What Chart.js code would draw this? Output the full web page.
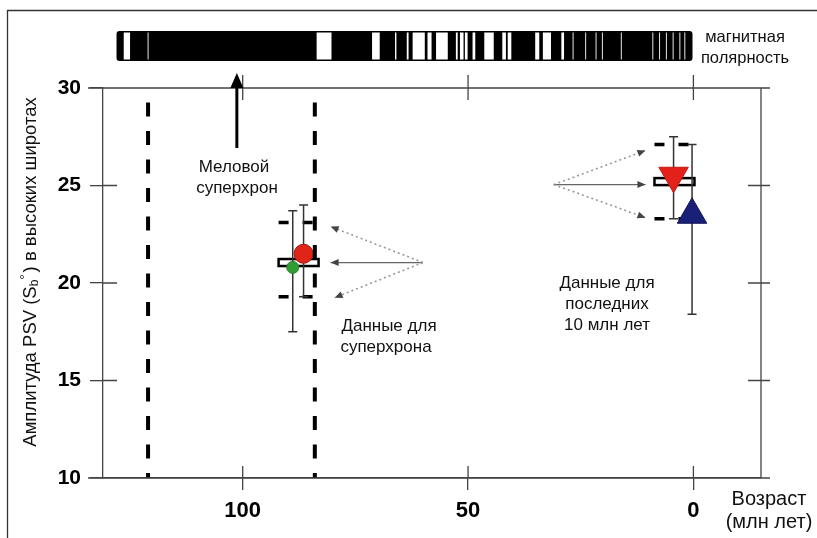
<!DOCTYPE html>
<html>
<head>
<meta charset="utf-8">
<script src="https://cdn.jsdelivr.net/npm/chart.js@4.4.1/dist/chart.umd.min.js"></script>
<style>
  html, body { margin: 0; padding: 0; background: #fff; }
  #wrap { width: 817px; height: 538px; }
</style>
</head>
<body>
<div id="wrap"><canvas id="psvChart" width="817" height="538"></canvas></div>
<script>
// values
const xTicks = [100, 50, 0];
const yTicks = [10, 15, 20, 25, 30];

// Cretaceous superchron boundaries (Ma)
const superchron = [121, 84];

// green & red circles (superchron), red & blue triangles (last 10 Ma)
const pointAges = [88.9, 86.5, 4.4, 0.3];
const pointAmps = [20.8, 21.5, 25.5, 23.5];
const errLow = [17.5, 19.3, 23.3, 18.4];
const errHigh = [23.7, 24.0, 27.5, 27.1];

// dashed model ranges
const boxAges = [87.6, 4.2];
const boxLow = [19.3, 23.3];
const boxMid = [21.05, 25.2];
const boxHigh = [23.1, 27.1];

// magnetic polarity bar: span and reversed (white) intervals, Ma
const polaritySpan = [128, 0.2];
const reversed = [
  [125.0, 126.4], [120.9, 121.1], [80.3, 83.6], [69.6, 71.3], [65.9, 66.2],
  [63.2, 63.6], [59.6, 62.3], [58.1, 59.0], [54.5, 57.1], [52.3, 52.7],
  [51.0, 51.8], [50.1, 50.7], [48.4, 49.0], [44.3, 46.4], [41.6, 42.4],
  [40.4, 41.2], [34.2, 35.1], [31.6, 33.4], [28.7, 29.3], [26.6, 26.8],
  [23.8, 24.0], [21.5, 21.7], [20.1, 20.3], [15.9, 16.1], [8.9, 9.1],
  [7.4, 7.6], [5.9, 6.1], [4.4, 4.6], [2.9, 3.1], [1.8, 2.0]
];

const FONT = '"Liberation Sans", Arial, sans-serif';
const AXIS = '#444';

function arrowHead(c, x1, y1, x2, y2, len, half) {
  const a = Math.atan2(y2 - y1, x2 - x1);
  c.beginPath();
  c.moveTo(x2, y2);
  c.lineTo(x2 - len * Math.cos(a) + half * Math.sin(a), y2 - len * Math.sin(a) - half * Math.cos(a));
  c.lineTo(x2 - len * Math.cos(a) - half * Math.sin(a), y2 - len * Math.sin(a) + half * Math.cos(a));
  c.closePath();
  c.fill();
}

function arrow(c, x1, y1, x2, y2, dotted) {
  c.save();
  c.strokeStyle = dotted ? '#999' : '#666';
  c.fillStyle = '#444';
  c.lineWidth = dotted ? 1.6 : 1.3;
  c.setLineDash(dotted ? [2, 3] : []);
  c.beginPath();
  c.moveTo(x1, y1);
  c.lineTo(x2, y2);
  c.stroke();
  c.setLineDash([]);
  arrowHead(c, x1, y1, x2, y2, 8, 3.5);
  c.restore();
}

const under = {
  id: 'under',
  beforeDatasetsDraw(chart) {
    const c = chart.ctx, xs = chart.scales.x, ys = chart.scales.y;
    c.save();
    // dashed model boxes
    c.strokeStyle = '#000';
    boxAges.forEach((age, i) => {
      const cx = xs.getPixelForValue(age), hw = 20;
      c.lineWidth = 3.5;
      c.setLineDash([10, 14]);
      [boxHigh[i], boxLow[i]].forEach(v => {
        const y = ys.getPixelForValue(v);
        c.beginPath(); c.moveTo(cx - hw, y); c.lineTo(cx + hw, y); c.stroke();
      });
      c.setLineDash([]);
      c.lineWidth = 2.5;
      const ym = ys.getPixelForValue(boxMid[i]);
      c.strokeRect(cx - hw, ym - 3.5, hw * 2, 7);
    });
    // error bars
    c.strokeStyle = '#333';
    c.lineWidth = 1.5;
    pointAges.forEach((age, i) => {
      const x = xs.getPixelForValue(age);
      const y1 = ys.getPixelForValue(errHigh[i]), y2 = ys.getPixelForValue(errLow[i]);
      c.beginPath();
      c.moveTo(x, y1); c.lineTo(x, y2);
      c.moveTo(x - 4.5, y1); c.lineTo(x + 4.5, y1);
      c.moveTo(x - 4.5, y2); c.lineTo(x + 4.5, y2);
      c.stroke();
    });
    c.restore();
  }
};

const decor = {
  id: 'decor',
  afterDraw(chart) {
    const c = chart.ctx, xs = chart.scales.x, ys = chart.scales.y;
    const a = chart.chartArea;
    c.save();

    // outer frame (top and left only)
    c.strokeStyle = '#333';
    c.lineWidth = 1.3;
    c.beginPath();
    c.moveTo(817, 10.5); c.lineTo(7.5, 10.5); c.lineTo(7.5, 538);
    c.stroke();

    // box around the plot, with ticks crossing each side
    c.strokeStyle = AXIS;
    c.lineWidth = 1.3;
    c.beginPath();
    c.moveTo(a.left - 15, a.top); c.lineTo(a.right + 9, a.top);
    c.moveTo(a.left - 15, a.bottom); c.lineTo(a.right + 9, a.bottom);
    c.moveTo(a.right, a.top); c.lineTo(a.right, a.bottom);
    xTicks.forEach(v => {
      const x = xs.getPixelForValue(v);
      c.moveTo(x, a.bottom); c.lineTo(x, a.bottom - 12);
      c.moveTo(x, a.top - 13); c.lineTo(x, a.top + 12);
    });
    yTicks.forEach(v => {
      const y = ys.getPixelForValue(v);
      c.moveTo(a.left, y); c.lineTo(a.left + 14, y);
      c.moveTo(a.right - 13, y); c.lineTo(a.right + 9, y);
    });
    c.stroke();

    // polarity bar
    const bx1 = xs.getPixelForValue(polaritySpan[0]), bx2 = xs.getPixelForValue(polaritySpan[1]);
    c.fillStyle = '#000';
    c.beginPath();
    c.roundRect(bx1, 31, bx2 - bx1, 30, 3);
    c.fill();
    c.fillStyle = '#fff';
    reversed.forEach(([o, y]) => {
      const p1 = xs.getPixelForValue(o), p2 = xs.getPixelForValue(y);
      c.fillRect(p1, 32.5, p2 - p1, 27);
    });

    // Cretaceous superchron arrow
    const ax = xs.getPixelForValue(101.3);
    c.strokeStyle = '#000';
    c.fillStyle = '#000';
    c.lineWidth = 3;
    c.beginPath(); c.moveTo(ax, 148); c.lineTo(ax, 84); c.stroke();
    arrowHead(c, ax, 148, ax, 73, 15, 6.5);

    // pointer arrows to the model ranges
    const gx = xs.getPixelForValue(60), gy = ys.getPixelForValue(boxMid[0]);
    const lx = xs.getPixelForValue(boxAges[0]) + 32;
    arrow(c, gx, gy, lx, ys.getPixelForValue(boxHigh[0]) + 4, true);
    arrow(c, gx, gy, lx, gy, false);
    arrow(c, gx, gy, lx + 4, ys.getPixelForValue(boxLow[0]) + 1, true);

    const rx = xs.getPixelForValue(31), ry = ys.getPixelForValue(boxMid[1]) + 3;
    const tx = xs.getPixelForValue(boxAges[1]) - 29;
    arrow(c, rx, ry, tx, ys.getPixelForValue(boxHigh[1]) + 6, true);
    arrow(c, rx, ry, tx, ry, false);
    arrow(c, rx, ry, tx, ys.getPixelForValue(boxLow[1]) - 1, true);

    // texts
    c.fillStyle = '#111';
    c.textAlign = 'center';
    c.textBaseline = 'middle';
    const lines = [
      ['Меловой', 234, 167, 17], ['суперхрон', 237, 188, 17],
      ['Данные для', 389, 326, 17], ['суперхрона', 386, 347, 17],
      ['Данные для', 607, 283, 17], ['последних', 607, 304, 17], ['10 млн лет', 607, 325, 17],
      ['магнитная', 745, 37, 16.5], ['полярность', 745, 58, 16.5],
      ['Возраст', 769, 499, 20], ['(млн лет)', 769, 522, 20]
    ];
    lines.forEach(([t, x, y, s]) => {
      c.font = s + 'px ' + FONT;
      c.fillText(t, x, y);
    });

    // y axis title with subscript and degree sign
    const parts = [
      ['Амплитуда PSV (S', 18.5, 0], ['b', 12, 4], ['°', 13, -6], [') в высоких широтах', 18.5, 0]
    ];
    let total = 0;
    parts.forEach(p => { c.font = p[1] + 'px ' + FONT; total += c.measureText(p[0]).width + (p[0] === '°' ? 2 : 0); });
    c.translate(31, 272);
    c.rotate(-Math.PI / 2);
    c.textAlign = 'left';
    c.textBaseline = 'middle';
    let px = -total / 2;
    parts.forEach(p => {
      c.font = p[1] + 'px ' + FONT;
      c.fillText(p[0], px, p[2]);
      px += c.measureText(p[0]).width + (p[0] === '°' ? 2 : 0);
    });
    c.restore();
  }
};

new Chart(document.getElementById('psvChart'), {
  type: 'scatter',
  data: {
    datasets: [
      ...superchron.map(age => ({
        type: 'line',
        data: [{ x: age, y: 30 }, { x: age, y: 10 }],
        borderColor: '#000',
        borderWidth: 4,
        borderDash: [14, 14.5],
        borderDashOffset: 14,
        pointRadius: 0,
        showLine: true,
        fill: false
      })),
      {
        data: pointAges.map((age, i) => ({ x: age, y: pointAmps[i] })),
        pointStyle: ['circle', 'circle', 'triangle', 'triangle'],
        rotation: [0, 0, 180, 0],
        radius: [6, 9.5, 17, 17],
        backgroundColor: ['#2f9e32', '#e02518', '#e3201a', '#1a1f78'],
        borderColor: ['#2f7e32', '#a01810', '#c01a14', '#10145a'],
        borderWidth: 1
      }
    ]
  },
  options: {
    responsive: false,
    animation: false,
    layout: { padding: { left: 0, top: 88, right: 56, bottom: 0 } },
    plugins: { legend: { display: false }, tooltip: { enabled: false } },
    scales: {
      x: {
        type: 'linear',
        reverse: true,
        min: -15,
        max: 131,
        afterBuildTicks: s => { s.ticks = xTicks.map(v => ({ value: v })); },
        afterFit: s => { s.height = 60; },
        grid: { drawOnChartArea: false, tickLength: 12, color: AXIS, lineWidth: 1.3 },
        border: { color: AXIS, width: 1.3 },
        ticks: { color: '#000', padding: 8, font: { family: FONT, size: 22, weight: 'bold' } }
      },
      y: {
        min: 10,
        max: 30,
        afterBuildTicks: s => { s.ticks = yTicks.map(v => ({ value: v })); },
        afterFit: s => { s.width = 103; },
        grid: { drawOnChartArea: false, tickLength: 13, color: AXIS, lineWidth: 1.3 },
        border: { color: AXIS, width: 1.3 },
        ticks: { color: '#000', padding: 9, font: { family: FONT, size: 21, weight: 'bold' } }
      }
    }
  },
  plugins: [under, decor]
});
</script>
</body>
</html>
